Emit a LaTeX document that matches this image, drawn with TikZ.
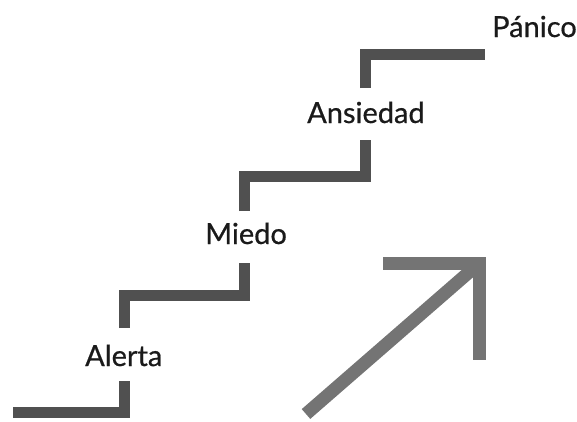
\documentclass[tikz,border=0pt]{standalone}
\usepackage{fontspec}
\setmainfont{Lato}
\newfontfamily\stagefont{Lato}[FakeBold=0.6]
\definecolor{stairgray}{HTML}{505050}
\definecolor{arrowgray}{HTML}{747474}
\definecolor{labelink}{HTML}{1A1A1A}
\begin{document}
\begin{tikzpicture}[x=1pt,y=-1pt,
  stair/.style={draw=stairgray,line width=11pt,line join=miter,line cap=butt},
  rise/.style={draw=arrowgray,line width=13pt,line join=miter,line cap=butt},
  stage/.style={anchor=base west,text=labelink,font=\stagefont\fontsize{29}{30}\selectfont,inner sep=0pt}]
\useasboundingbox (0,0) rectangle (577,421);
% stage labels
\node[stage] (alerta) at (85,366) {Alerta};
\node[stage] (miedo) at (205,244) {Miedo};
\node[stage] (ansiedad) at (307,123) {Ansiedad};
\node[stage] (panico) at (492,37) {Pánico};
% staircase, one flight per stage
\draw[stair] (13,412.5) -- (124.5,412.5) -- (124.5,381);
\draw[stair] (124.5,328) -- (124.5,295.5) -- (244.5,295.5) -- (244.5,263);
\draw[stair] (244.5,211) -- (244.5,176) -- (365.5,176) -- (365.5,140);
\draw[stair] (365.5,88) -- (365.5,54) -- (485,54);
% rising arrow
\draw[rise] (306,414) -- (479,263.5);
\draw[rise] (383,263.5) -- (479,263.5) -- (479,360);
\end{tikzpicture}
\end{document}
